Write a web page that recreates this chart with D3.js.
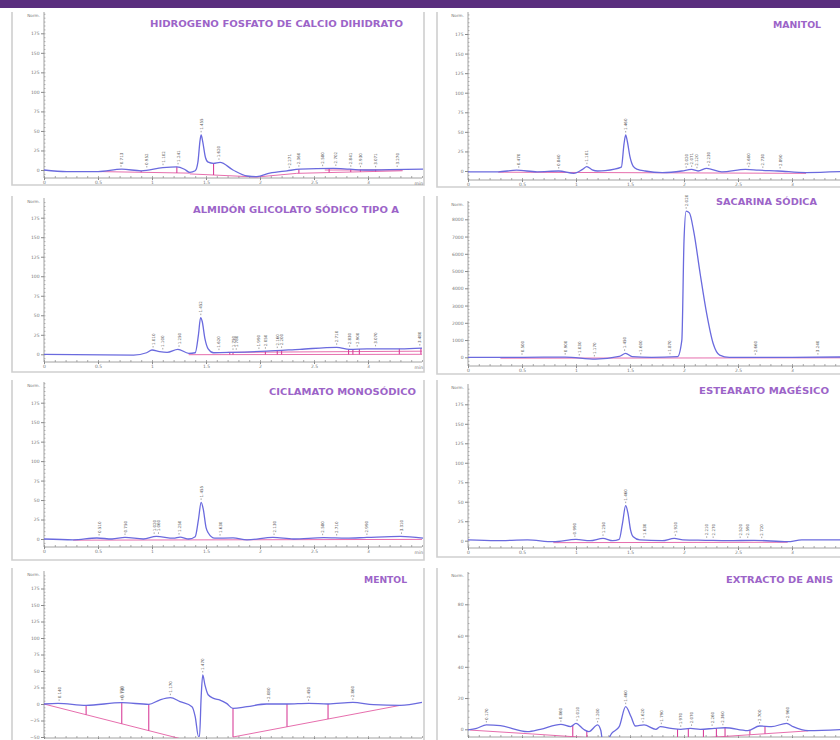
<!DOCTYPE html>
<html>
<head>
<meta charset="utf-8">
<script src="https://cdn.jsdelivr.net/npm/d3@7"></script>
<style>
  body { margin: 0; background: #fff; }
  svg { display: block; }
</style>
</head>
<body>
<svg id="chart" width="840" height="740"></svg>
<script>
// ---- data (time in min, signal in Norm.) ----
const titles = [
  'HIDROGENO FOSFATO DE CALCIO DIHIDRATO', 'MANITOL',
  'ALMIDÓN GLICOLATO SÓDICO TIPO A', 'SACARINA SÓDICA',
  'CICLAMATO MONOSÓDICO', 'ESTEARATO MAGÉSICO',
  'MENTOL', 'EXTRACTO DE ANIS'
]

const xTickValues = [0, 0.5, 1, 1.5, 2, 2.5, 3]
const yTicksNorm = [0, 25, 50, 75, 100, 125, 150, 175]
const yTicksSacarina = [0, 1000, 2000, 3000, 4000, 5000, 6000, 7000, 8000]
const yTicksMentol = [-50, -25, 0, 25, 50, 75, 100, 125, 150, 175]
const yTicksAnis = [0, 20, 40, 60, 80]

const traceHidrogeno = [[0,0],[0.21,-2],[0.5,-2],[0.72,1],[0.9,-1],[1.1,3],[1.23,4],[1.3,1],[1.35,-3],[1.40,-1],[1.425,10],[1.445,38],[1.455,45],[1.47,36],[1.495,16],[1.52,10],[1.57,8.5],[1.63,9.8],[1.75,0],[1.88,-7.7],[1.97,-8.5],[2.09,-4],[2.25,-1],[2.37,1],[2.68,2],[2.83,1],[2.99,0],[3.2,0.5],[3.51,1]]
const traceManitol = [[0,-1],[0.28,-1],[0.45,1],[0.64,-1],[0.84,0],[0.98,-3],[1.06,2],[1.1,5.5],[1.15,1.5],[1.2,0],[1.27,0.5],[1.42,5],[1.445,35],[1.46,46],[1.475,38],[1.5,18],[1.53,6],[1.57,2],[1.64,0],[1.8,-2],[1.98,0],[2.07,2],[2.13,0],[2.21,3.4],[2.35,-1],[2.57,2],[2.69,1],[2.87,0],[3.13,-2],[3.52,-0.5]]
const traceAlmidon = [[0,0],[0.83,-1],[0.95,2],[1.0,5.5],[1.07,3.4],[1.14,2.5],[1.24,6.4],[1.34,1.3],[1.40,2],[1.43,25],[1.45,47],[1.465,42],[1.49,20],[1.52,7],[1.57,2],[1.75,2.5],[2.06,4],[2.37,6.4],[2.71,9],[2.83,6.4],[2.99,7],[3.30,7],[3.5,8]]
const traceSacarina = [[0,0],[0.5,0],[0.9,10],[1.18,-100],[1.4,50],[1.46,230],[1.52,40],[1.7,0],[1.94,40],[1.98,1000],[2.0,6740],[2.02,8470],[2.05,8370],[2.09,7300],[2.15,4830],[2.21,2530],[2.27,800],[2.33,130],[2.42,0],[3.0,0],[3.52,20]]
const traceCiclamato = [[0,0],[0.27,-1],[0.49,1.3],[0.63,0],[0.75,2],[0.92,0],[1.04,3.4],[1.2,1],[1.26,2.5],[1.34,0],[1.40,3],[1.43,25],[1.455,47],[1.475,38],[1.5,15],[1.52,8],[1.58,1],[1.75,1.5],[1.88,-1],[2.12,2],[2.31,0],[2.59,1.7],[2.8,1],[2.99,2],[3.3,3.4],[3.51,1]]
const traceEstearato = [[0,1],[0.26,0],[0.55,1],[0.79,-1.3],[1.0,1.7],[1.13,0],[1.25,3],[1.34,0],[1.40,1.7],[1.43,22],[1.46,45],[1.48,36],[1.505,14],[1.53,5],[1.59,1],[1.8,0],[1.91,3],[1.99,1],[2.2,0.5],[2.41,0],[2.65,0.5],[2.96,-1.3],[3.09,1],[3.52,1]]
const traceMentol = [[0,0],[0.13,1],[0.39,-2],[0.72,2],[0.97,-0.5],[1.07,6],[1.17,9.6],[1.26,3.5],[1.37,-4],[1.40,-19],[1.43,-49],[1.44,-49],[1.455,10],[1.47,44],[1.49,29],[1.52,14],[1.57,8.6],[1.63,6],[1.69,1],[1.75,-6.6],[1.88,-4],[2.06,0],[2.25,0],[2.45,1],[2.63,0],[2.86,2.5],[3.05,-1],[3.3,-2],[3.5,2.5]]
const traceAnis = [[0,-0.4],[0.08,0.6],[0.17,2.8],[0.3,2.3],[0.55,-1.5],[0.67,0],[0.86,3.2],[0.95,1.7],[1.0,3.8],[1.07,0],[1.12,-1.5],[1.2,2.8],[1.23,-0.8],[1.245,-6.8],[1.29,-6.8],[1.33,-2.6],[1.40,1.7],[1.46,14.5],[1.51,8],[1.55,2.1],[1.63,2.8],[1.74,0],[1.78,1.7],[1.88,0.6],[1.97,0],[2.06,0.6],[2.15,0],[2.28,0.6],[2.38,1],[2.59,-0.9],[2.70,2.1],[2.81,1.7],[2.95,3.8],[3.01,1.7],[3.15,-0.9],[3.52,0]]

const peaksHidrogeno = ['0.713','0.952','1.102','1.241','1.455','1.620','2.271','2.360','2.580','2.702','2.841','2.930','3.071','3.270']
const peaksManitol = ['0.470','0.840','1.101','1.460','2.020','2.071','2.120','2.230','2.600','2.730','2.890']
const peaksAlmidon = ['1.010','1.100','1.250','1.452','1.620','1.750','1.780','1.990','2.050','2.160','2.200','2.710','2.830','2.900','3.070','3.480']
const peaksSacarina = ['0.500','0.900','1.030','1.170','1.450','1.600','1.870','2.020','2.660','3.240']
const peaksCiclamato = ['0.510','0.750','1.020','1.060','1.250','1.455','1.630','2.130','2.580','2.710','2.990','3.310']
const peaksEstearato = ['0.990','1.250','1.460','1.630','1.920','2.210','2.270','2.520','2.590','2.720']
const peaksMentol = ['0.140','0.720','0.730','1.170','1.470','2.080','2.450','2.860']
const peaksAnis = ['0.170','0.860','1.010','1.200','1.460','1.620','1.790','1.970','2.070','2.260','2.360','2.700','2.960']

// baseline segments [t1, v1, t2, v2]
const baseHidrogeno = [[0.5,-2,1.35,-4],[1.35,-5,1.97,-9],[1.97,-9,2.34,-4.3],[2.34,-4.3,3.32,-1],[2.6,0,3.32,0]]
const baseManitol = [[0.28,-1.5,3.13,-3]]
const baseAlmidon = [[1.34,-0.5,3.5,0],[1.7,2.5,3.5,4]]
const baseSacarina = [[0.3,-50,3.52,-30]]
const baseCiclamato = [[0.27,-1.5,3.5,-0.5]]
const baseEstearato = [[0.79,-2.5,2.96,-2]]
const baseMentol = [[0,0,1.25,-52],[1.75,-50,3.3,-2]]
const baseAnis = [[0.02,-0.5,0.6,-3],[0.6,-3,1.25,-6],[1.85,-7,3.15,-1]]

// drop lines from trace to baseline
const dropsHidrogeno = [0.9,1.23,1.35,1.57,2.36,2.64,2.84,2.93,3.07]
const dropsManitol = []
const dropsAlmidon = [1.72,1.75,2.05,2.16,2.2,2.82,2.86,2.92,3.29,3.49]
const dropsSacarina = []
const dropsCiclamato = []
const dropsEstearato = []
const dropsMentol = [0.39,0.72,0.97,1.75,2.25,2.63]
const dropsAnis = [0.97,1.1,1.55,1.74,1.94,2.04,2.18,2.30,2.38,2.61,2.75]

// ---- layout ----
const cols = {
  L: { frameL: 12, frameR: 424, x0: 44 },
  R: { frameL: 437, frameR: 846, x0: 468 }
}

const panels = [
  { col: 'L', title: titles[0], tx: 150, tw: 253, ty: 26.5, top: 12, bottom: 185, axisY: 178, y0: 170, yTop: 33.3, vTop: 175, ticks: yTicksNorm, minor: 5, normY: 15, trace: traceHidrogeno, peaks: peaksHidrogeno, base: baseHidrogeno, drops: dropsHidrogeno },
  { col: 'R', title: titles[1], tx: 773, tw: 48, ty: 27.5, top: 12, bottom: 187, axisY: 180, y0: 171, yTop: 34, vTop: 175, ticks: yTicksNorm, minor: 5, normY: 15, trace: traceManitol, peaks: peaksManitol, base: baseManitol, drops: dropsManitol },
  { col: 'L', title: titles[2], tx: 193, tw: 206, ty: 212.5, top: 196, bottom: 372, axisY: 362, y0: 354.3, yTop: 217.7, vTop: 175, ticks: yTicksNorm, minor: 5, normY: 201, trace: traceAlmidon, peaks: peaksAlmidon, base: baseAlmidon, drops: dropsAlmidon },
  { col: 'R', title: titles[3], tx: 716, tw: 101, ty: 204.5, top: 196, bottom: 374, axisY: 366, y0: 357.3, yTop: 219.3, vTop: 8000, ticks: yTicksSacarina, minor: 200, normY: 204, trace: traceSacarina, peaks: peaksSacarina, base: baseSacarina, drops: dropsSacarina },
  { col: 'L', title: titles[4], tx: 269, tw: 147, ty: 394.5, top: 380, bottom: 560, axisY: 547, y0: 539, yTop: 402.7, vTop: 175, ticks: yTicksNorm, minor: 5, normY: 385, trace: traceCiclamato, peaks: peaksCiclamato, base: baseCiclamato, drops: dropsCiclamato },
  { col: 'R', title: titles[5], tx: 699, tw: 130, ty: 393.5, top: 380, bottom: 557, axisY: 548, y0: 540.7, yTop: 404.3, vTop: 175, ticks: yTicksNorm, minor: 5, normY: 387, trace: traceEstearato, peaks: peaksEstearato, base: baseEstearato, drops: dropsEstearato },
  { col: 'L', title: titles[6], tx: 364, tw: 43, ty: 582.5, top: 568, bottom: 760, axisY: 738, y0: 704, yTop: 588.5, vTop: 175, ticks: yTicksMentol, minor: 5, normY: 574, trace: traceMentol, peaks: peaksMentol, base: baseMentol, drops: dropsMentol },
  { col: 'R', title: titles[7], tx: 726, tw: 107, ty: 582.5, top: 568, bottom: 760, axisY: 737, y0: 729.3, yTop: 604.3, vTop: 80, ticks: yTicksAnis, minor: 4, normY: 575, trace: traceAnis, peaks: peaksAnis, base: baseAnis, drops: dropsAnis }
]

const svg = d3.select('#chart')
const font = 'DejaVu Sans, Verdana, sans-serif'

svg.append('rect')
  .attr('x', 0).attr('y', 0)
  .attr('width', 840).attr('height', 8)
  .attr('fill', '#5a2e7e')

const bisect = d3.bisector(d => d[0]).left

function valueAt(trace, t) {
  const i = bisect(trace, t)
  if (i <= 0) return trace[0][1]
  if (i >= trace.length) return trace[trace.length - 1][1]
  const a = trace[i - 1], b = trace[i]
  return a[1] + (b[1] - a[1]) * (t - a[0]) / (b[0] - a[0])
}

function baseAt(base, t) {
  const seg = base.find(s => t >= s[0] && t <= s[2])
  if (!seg) return null
  return seg[1] + (seg[3] - seg[1]) * (t - seg[0]) / (seg[2] - seg[0])
}

panels.forEach((p, idx) => {
  const c = cols[p.col]
  const g = svg.append('g').attr('class', 'panel')

  const x = d3.scaleLinear().domain([0, 3.5]).range([c.x0, c.x0 + 378])
  const y = d3.scaleLinear().domain([0, p.vTop]).range([p.y0, p.yTop])

  // frame
  g.append('path')
    .attr('d', `M${c.frameL},${p.top}V${p.bottom}H${c.frameR}V${p.top}`)
    .attr('fill', 'none')
    .attr('stroke', '#cfcfcf')
    .attr('stroke-width', 1.6)

  // x axis: minor ticks up, labels below (row 4 labels fall off the page)
  const xEnd = Math.min(c.x0 + 378, 840)
  g.append('line')
    .attr('x1', c.x0).attr('x2', xEnd)
    .attr('y1', p.axisY).attr('y2', p.axisY)
    .attr('stroke', '#8a8a8a').attr('stroke-width', 0.8)

  const xMinor = g.append('g')
    .attr('transform', `translate(0,${p.axisY})`)
    .call(d3.axisTop(x).tickValues(d3.range(0, 3.51, 0.1)).tickSize(2).tickFormat(''))
  xMinor.select('.domain').remove()
  xMinor.selectAll('line').attr('stroke', '#8a8a8a').attr('stroke-width', 0.7)

  const showLabels = p.axisY + 7 < 740
  const xAxis = g.append('g')
    .attr('transform', `translate(0,${p.axisY})`)
    .call(d3.axisBottom(x).tickValues(xTickValues).tickSize(showLabels ? 2 : 1)
      .tickPadding(1).tickFormat(showLabels ? d3.format('~g') : ''))
  xAxis.select('.domain').remove()
  xAxis.selectAll('line').attr('stroke', '#8a8a8a')
  xAxis.selectAll('text').attr('font-size', 4.5).attr('fill', '#777').attr('font-family', font)

  if (showLabels && x(3.47) < 840) {
    g.append('text')
      .attr('x', x(3.47)).attr('y', p.axisY + 6.5)
      .attr('text-anchor', 'middle')
      .attr('font-size', 4.5).attr('fill', '#777').attr('font-family', font)
      .text('min')
  }

  // y axis
  const yMinorVals = d3.range(
    Math.ceil(y.invert(p.axisY) / p.minor) * p.minor,
    y.invert(p.normY - 2),
    p.minor
  )
  const yMinor = g.append('g')
    .attr('transform', `translate(${c.x0},0)`)
    .call(d3.axisRight(y).tickValues(yMinorVals).tickSize(1.5).tickFormat(''))
  yMinor.select('.domain').remove()
  yMinor.selectAll('line').attr('stroke', '#8a8a8a').attr('stroke-width', 0.6)

  g.append('line')
    .attr('x1', c.x0).attr('x2', c.x0)
    .attr('y1', p.normY - 3).attr('y2', p.axisY)
    .attr('stroke', '#8a8a8a').attr('stroke-width', 0.8)

  const yAxis = g.append('g')
    .attr('transform', `translate(${c.x0},0)`)
    .call(d3.axisLeft(y).tickValues(p.ticks).tickSize(3).tickPadding(1.5).tickFormat(d3.format('d')))
  yAxis.select('.domain').remove()
  yAxis.selectAll('line').attr('stroke', '#8a8a8a')
  yAxis.selectAll('text').attr('font-size', 4.5).attr('fill', '#777').attr('font-family', font)

  g.append('text')
    .attr('x', c.x0 - 4).attr('y', p.normY + 1.5)
    .attr('text-anchor', 'end')
    .attr('font-size', 4.2).attr('fill', '#777').attr('font-family', font)
    .text('Norm.')

  // clip area for the signal
  const clipId = 'clip' + idx
  svg.append('clipPath').attr('id', clipId)
    .append('rect')
    .attr('x', c.frameL + 1).attr('y', p.top)
    .attr('width', Math.min(c.frameR, 840) - c.frameL - 1)
    .attr('height', p.axisY - p.top)

  const plot = g.append('g').attr('clip-path', `url(#${clipId})`)

  // baselines
  plot.selectAll('.base')
    .data(p.base)
    .enter()
    .append('line')
    .attr('x1', d => x(d[0])).attr('y1', d => y(d[1]))
    .attr('x2', d => x(d[2])).attr('y2', d => y(d[3]))
    .attr('stroke', '#e2559f')
    .attr('stroke-width', 1)
    .attr('stroke-opacity', 0.85)

  // drop lines
  plot.selectAll('.drop')
    .data(p.drops.filter(t => baseAt(p.base, t) !== null))
    .enter()
    .append('line')
    .attr('x1', d => x(d)).attr('x2', d => x(d))
    .attr('y1', d => y(valueAt(p.trace, d)))
    .attr('y2', d => y(baseAt(p.base, d)))
    .attr('stroke', '#d8409a')
    .attr('stroke-width', 1.1)

  // signal trace
  const line = d3.line()
    .x(d => x(d[0]))
    .y(d => y(d[1]))
    .curve(d3.curveMonotoneX)

  plot.append('path')
    .datum(p.trace)
    .attr('d', line)
    .attr('fill', 'none')
    .attr('stroke', '#6a6ade')
    .attr('stroke-width', 1.3)
    .attr('stroke-linejoin', 'round')

  // peak retention time labels
  const peakG = g.selectAll('.peak')
    .data(p.peaks)
    .enter()
    .append('g')
    .attr('transform', d => {
      const t = +d
      const near = p.trace.filter(q => Math.abs(q[0] - t) <= 0.03).map(q => q[1])
      const v = Math.max(valueAt(p.trace, t), ...near)
      return `translate(${x(t)},${y(v) - 2.5})`
    })

  peakG.append('line')
    .attr('x1', 0).attr('x2', 0)
    .attr('y1', 0).attr('y2', -1.5)
    .attr('stroke', '#666').attr('stroke-width', 0.6)

  peakG.append('text')
    .attr('transform', 'rotate(-90)')
    .attr('x', 2.5).attr('y', 1.5)
    .attr('font-size', 4).attr('fill', '#555').attr('font-family', font)
    .text(d => d)

  // title
  g.append('text')
    .attr('x', p.tx).attr('y', p.ty)
    .attr('textLength', p.tw)
    .attr('lengthAdjust', 'spacingAndGlyphs')
    .attr('font-size', 9.5)
    .attr('font-weight', 'bold')
    .attr('font-family', font)
    .attr('fill', '#9c64c8')
    .text(p.title)
})
</script>
</body>
</html>
